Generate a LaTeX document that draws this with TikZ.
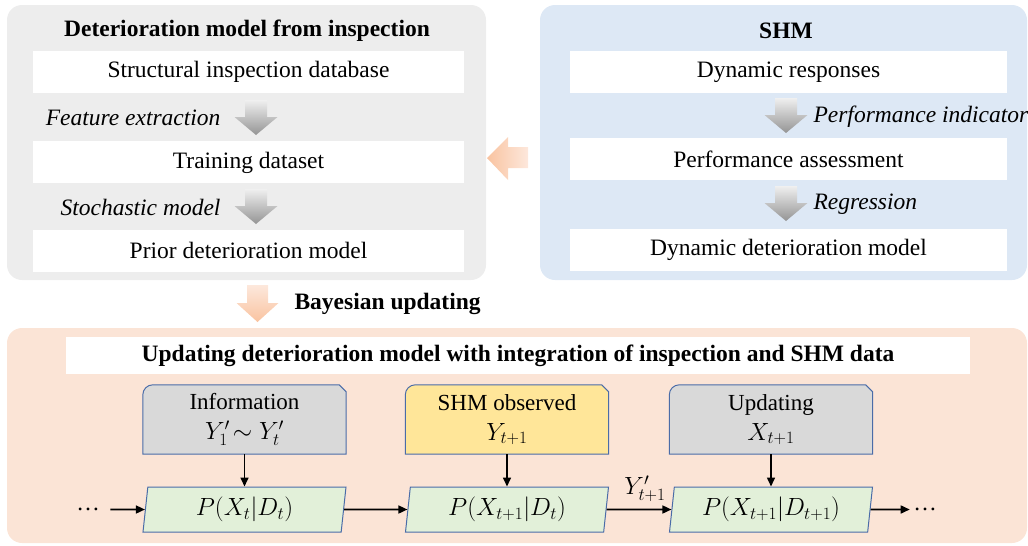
\documentclass[tikz,border=0pt]{standalone}
\usepackage{fontspec}
\setmainfont{Liberation Serif}
\usetikzlibrary{positioning,shapes.geometric,arrows.meta,backgrounds}

\definecolor{panelgray}{HTML}{EDEDED}
\definecolor{panelblue}{HTML}{DDE8F5}
\definecolor{panelpeach}{HTML}{FBE4D6}
\definecolor{boxgray}{HTML}{D9D9D9}
\definecolor{boxyellow}{HTML}{FFE699}
\definecolor{boxgreen}{HTML}{E2F0D9}
\definecolor{boxline}{HTML}{4A6CA8}
\definecolor{peachdark}{HTML}{F9C3A0}
\definecolor{peachlight}{HTML}{FDE8DC}

\begin{document}
\begin{tikzpicture}
    [ x = 1pt, y = -1pt
    , font = \fontsize{23.5}{28}\selectfont
    , panel/.style =
      { rounded corners = 15pt }
    , whitebox/.style =
      { fill = white, minimum width = 431pt, minimum height = 42pt, inner sep = 0pt }
    , title/.style =
      { font = \fontsize{23.5}{28}\selectfont\bfseries }
    , steplabel/.style =
      { font = \fontsize{23.5}{28}\selectfont\itshape }
    , grayarrow/.style =
      { top color = black!6, bottom color = black!42 }
    , infobox/.style =
      { minimum width = 203pt, minimum height = 69pt, align = center, inner sep = 0pt
      , font = \fontsize{23}{27}\selectfont }
    , boxshape/.style =
      { draw = boxline, line width = 1pt }
    , state/.style =
      { trapezium, trapezium left angle = 79, trapezium right angle = 101
      , trapezium stretches body, draw = boxline, fill = boxgreen, line width = 1pt
      , minimum width = 203pt, minimum height = 45pt, inner sep = 0pt
      , font = \fontsize{25.5}{30}\selectfont }
    , link/.style =
      { -{Triangle[length = 9pt, width = 8pt]}, line width = 1.6pt }
    ]
    \useasboundingbox (0,0) rectangle (1028,546);

    % inspection side
    \node [title] (insp) at (247,31) {Deterioration model from inspection};
    \node [whitebox] (sid) at (248.5,72) {Structural inspection database};
    \node [whitebox] (td) [below=48pt of sid] {Training dataset};
    \node [whitebox] (prior) [below=46pt of td] {Prior deterioration model};
    \node [steplabel, anchor=east] (fe) at (224,118) {Feature extraction};
    \node [steplabel, anchor=east] (sm) at (224,207) {Stochastic model};

    % SHM side
    \node [title] (shm) at (786,31) {SHM};
    \node [whitebox, minimum width=437pt] (dr) at (788.5,72) {Dynamic responses};
    \node [whitebox, minimum width=437pt] (pa) [below=45pt of dr] {Performance assessment};
    \node [whitebox, minimum width=437pt] (ddm) [below=48pt of pa] {Dynamic deterioration model};
    \node [steplabel, anchor=west] (pi) at (810,117) {Performance indicator};
    \node [steplabel, anchor=west] (reg) at (810,204) {Regression};

    \foreach \ax/\ay in {256/100, 256/189, 786/98, 786/186}
      \shade [grayarrow] (\ax-11,\ay) -- (\ax+11,\ay) -- (\ax+11,\ay+17)
        -- (\ax+21.5,\ay+17) -- (\ax,\ay+35) -- (\ax-21.5,\ay+17)
        -- (\ax-11,\ay+17) -- cycle;

    % orange arrows
    \shade [left color=peachdark, right color=peachlight]
      (487,158) -- (508,137) -- (508,147) -- (528,147) -- (528,168)
      -- (508,168) -- (508,180) -- cycle;
    \shade [top color=peachlight, bottom color=peachdark]
      (247,285) -- (268,285) -- (268,303) -- (278.5,303) -- (257.5,322)
      -- (236.5,303) -- (247,303) -- cycle;
    \node [title, anchor=west] (bayes) at (291,304) {Bayesian updating};

    % updating
    \node [whitebox, title, minimum width=904pt, minimum height=37pt] (intg) at (518,355.5)
      {Updating deterioration model with integration of inspection and SHM data};
    \node [infobox] (info) at (244.5,419.5) {Information\\[3pt]$Y'_1\!\sim Y'_t$};
    \node [infobox] (obs) at (507,419.5) {SHM observed\\[3pt]$Y_{t+1}$};
    \node [infobox] (upd) at (771,419.5) {Updating\\[3pt]$X_{t+1}$};

    \node [state] (sa) at (244.5,509.5) {$P(X_t|D_t)$};
    \node [state] (sb) at (507,509.5) {$P(X_{t+1}|D_t)$};
    \node [state] (sc) at (771,509.5) {$P(X_{t+1}|D_{t+1})$};
    \node (ldots) at (88,509.5) {…};
    \node (rdots) at (925,509.5) {…};

    \draw [link, shorten <=7pt] (ldots) -- (sa);
    \draw [link] (sa) -- (sb);
    \draw [link] (sb) -- node [above=4pt, xshift=6pt] {$Y'_{t+1}$} (sc);
    \draw [link] (sc) -- (rdots);
    \draw [link] (info) -- (sa);
    \draw [link] (obs) -- (sb);
    \draw [link] (upd) -- (sc);

    \begin{scope}[on background layer]
      \fill [panel, panelgray] (7,5) rectangle (486,280);
      \fill [panel, panelblue] (540,5) rectangle (1027,280);
      \fill [panel, panelpeach] (7,328) rectangle (1027,543);
      \foreach \b/\c in {info/boxgray, obs/boxyellow, upd/boxgray}
        \filldraw [boxshape, fill=\c] (\b.south west) -- ([yshift=-10pt]\b.north west)
          arc [start angle=180, end angle=90, radius=10pt]
          -- ([xshift=-7pt]\b.north east) -- ([yshift=-7pt]\b.north east)
          -- (\b.south east) -- cycle;
    \end{scope}
  \end{tikzpicture}
\end{document}
